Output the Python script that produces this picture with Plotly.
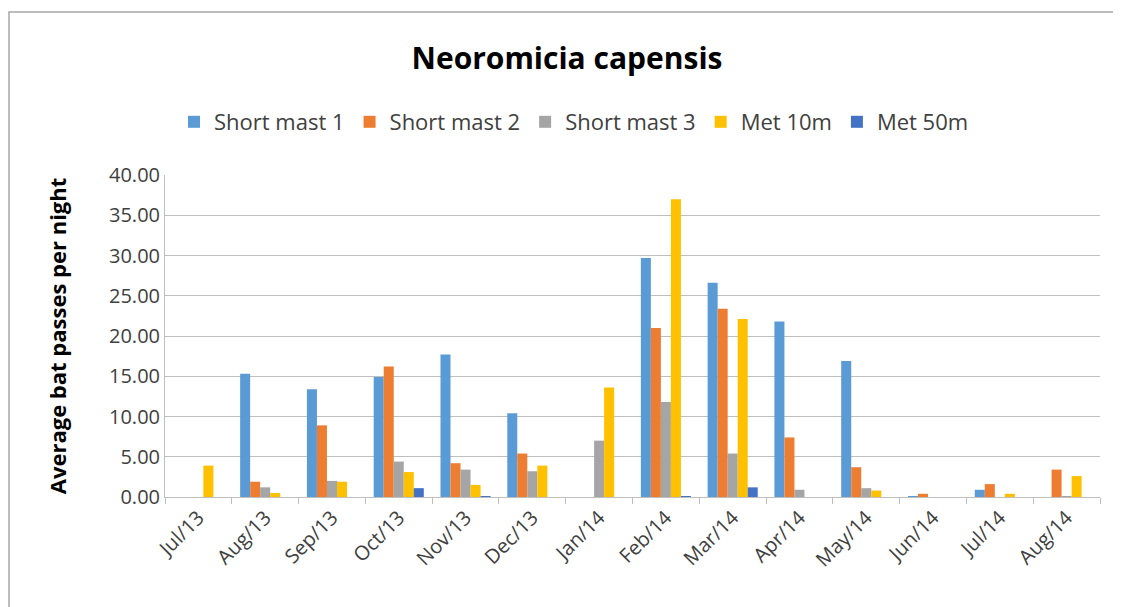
import plotly.graph_objects as go

months = ["Jul/13", "Aug/13", "Sep/13", "Oct/13", "Nov/13", "Dec/13", "Jan/14",
          "Feb/14", "Mar/14", "Apr/14", "May/14", "Jun/14", "Jul/14", "Aug/14"]
short_mast_1 = [0, 15.3, 13.4, 14.9, 17.7, 10.4, 0, 29.7, 26.6, 21.8, 16.9, 0.1, 0.9, 0]
short_mast_2 = [0, 1.9, 8.9, 16.2, 4.2, 5.4, 0, 21.0, 23.4, 7.4, 3.7, 0.4, 1.6, 3.4]
short_mast_3 = [0, 1.2, 2.0, 4.4, 3.4, 3.2, 7.0, 11.8, 5.4, 0.9, 1.1, 0, 0, 0.1]
met_10m = [3.9, 0.5, 1.9, 3.1, 1.5, 3.9, 13.6, 37.0, 22.1, 0, 0.8, 0, 0.4, 2.6]
met_50m = [0, 0, 0, 1.1, 0.1, 0, 0, 0.1, 1.2, 0, 0, 0, 0, 0]
series_names = ["Short mast 1", "Short mast 2", "Short mast 3", "Met 10m", "Met 50m"]
tick_vals = [0, 5, 10, 15, 20, 25, 30, 35, 40]

colors = ["#5B9BD5", "#ED7D31", "#A5A5A5", "#FFC000", "#4472C4"]
FONT = "Open Sans, Liberation Sans, Arial, sans-serif"

W, H = 1113, 599
L, R, T, B = 157, 21, 167, 110
PW, PH = W - L - R, H - T - B

fig = go.Figure()
for name, vals, c in zip(series_names,
                         [short_mast_1, short_mast_2, short_mast_3, met_10m, met_50m],
                         colors):
    fig.add_trace(go.Bar(x=months, y=vals, name=name, marker_color=c, marker_line_width=0))

fig.update_layout(
    width=W, height=H,
    margin=dict(l=L, r=R, t=T, b=B),
    paper_bgcolor="white", plot_bgcolor="white",
    barmode="group", bargap=0.25, bargroupgap=0,
    font=dict(family=FONT, color="#404040", size=20),
    title=dict(text="<b>Neoromicia capensis</b>", x=(567 - 8) / W, xanchor="center",
               y=1 - 50 / H, yanchor="middle",
               font=dict(family=FONT, size=30, color="#000000")),
    legend=dict(orientation="h", x=(574 - 8 - L) / PW, xanchor="center",
                y=(489 - 114) / PH, yanchor="middle",
                font=dict(family=FONT, size=22, color="#404040"),
                tracegroupgap=0),
    xaxis=dict(tickangle=-45, showline=True, linecolor="#BFBFBF", linewidth=1,
               ticks="outside", ticklen=6, tickcolor="#BFBFBF",
               tickson="boundaries", tickfont=dict(size=20, color="#404040")),
    yaxis=dict(range=[0, 40], tickvals=tick_vals,
               ticktext=[f"{v:.2f}" for v in tick_vals],
               showgrid=True, gridcolor="#BFBFBF", gridwidth=1,
               showline=True, linecolor="#BFBFBF", zeroline=False,
               tickfont=dict(size=20, color="#404040"),
               title=dict(text="<b>Average bat passes per night</b>", standoff=36,
                          font=dict(family=FONT, size=22, color="#000000"))),
    shapes=[dict(type="rect", xref="paper", yref="paper",
                 x0=(1 - L) / PW, x1=1.05, y0=-0.5, y1=(489 - 4) / PH,
                 line=dict(color="#A6A6A6", width=1.5), fillcolor="rgba(0,0,0,0)",
                 layer="below")],
)

fig.write_html("out.html")
